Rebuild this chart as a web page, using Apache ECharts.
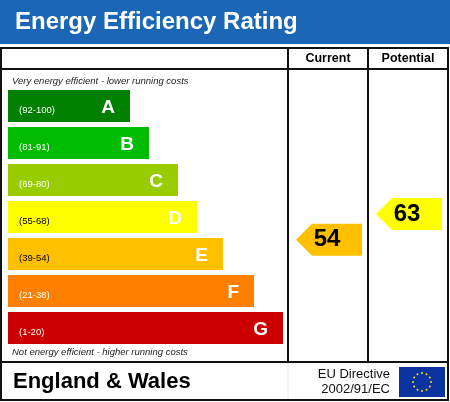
<!DOCTYPE html>
<html>
<head>
<meta charset="utf-8">
<script src="https://cdn.jsdelivr.net/npm/echarts@6/dist/echarts.min.js"></script>
<style>
html,body{margin:0;padding:0;background:#fff;}
#chart{width:450px;height:402px;}
</style>
</head>
<body>
<div id="chart"></div>
<script>
// ---- data ----
const title = 'Energy Efficiency Rating';
const ratings = ['A', 'B', 'C', 'D', 'E', 'F', 'G'];
const ranges = ['(92-100)', '(81-91)', '(69-80)', '(55-68)', '(39-54)', '(21-38)', '(1-20)'];
const bandMin = [92, 81, 69, 55, 39, 21, 1];
const barLengths = [122, 141, 170, 189, 215, 246, 275];
const columns = ['Current', 'Potential'];
const scores = [54, 63];
const topNote = 'Very energy efficient - lower running costs';
const bottomNote = 'Not energy efficient - higher running costs';
const region = 'England & Wales';
const directive = ['EU Directive', '2002/91/EC'];

// ---- styles ----
const bandColors = ['#007f00', '#00bb00', '#99cc00', '#ffff00', '#ffc000', '#ff8000', '#cc0000'];
const rangeTextColors = ['#fff', '#fff', '#fff', '#000', '#000', '#fff', '#fff'];
const FONT = '"Liberation Sans", Arial, Helvetica, sans-serif';

function bandIndex(v) {
  for (let i = 0; i < bandMin.length; i++) if (v >= bandMin[i]) return i;
  return bandMin.length - 1;
}

const chart = echarts.init(document.getElementById('chart'), null, {renderer: 'canvas'});

const stars = [];
for (let i = 0; i < 12; i++) {
  const a = i * Math.PI / 6;
  stars.push({
    type: 'circle',
    shape: {cx: 422 + 9 * Math.cos(a), cy: 382 + 9 * Math.sin(a), r: 1},
    style: {fill: '#ffdd00'}
  });
}

const line = (x1, y1, x2, y2, color, w) => ({
  type: 'line',
  shape: {x1, y1, x2, y2},
  style: {stroke: color || '#111', lineWidth: w || 2}
});

const option = {
  animation: false,
  backgroundColor: '#fff',
  textStyle: {fontFamily: FONT},
  graphic: [
    {type: 'rect', shape: {x: 0, y: 0, width: 450, height: 44}, style: {fill: '#1b66b5'}},
    {type: 'text', x: 15, y: 22, style: {text: title, fill: '#fff', font: 'bold 24px ' + FONT, verticalAlign: 'middle'}},
    {type: 'rect', shape: {x: 1, y: 48, width: 447, height: 352}, style: {fill: 'none', stroke: '#111', lineWidth: 2}},
    line(1, 69, 448, 69),
    line(1, 362, 448, 362),
    line(288, 48, 288, 362),
    line(368, 48, 368, 362),
    line(288, 363, 288, 399, '#e4e4e4', 1),
    line(368, 363, 368, 399, '#e4e4e4', 1),
    {type: 'text', x: 12, y: 81, style: {text: topNote, fill: '#222', font: 'italic 9.5px ' + FONT, verticalAlign: 'middle'}},
    {type: 'text', x: 12, y: 352, style: {text: bottomNote, fill: '#222', font: 'italic 9.5px ' + FONT, verticalAlign: 'middle'}},
    {type: 'text', x: 13, y: 382, style: {text: region, fill: '#000', font: 'bold 22px ' + FONT, verticalAlign: 'middle'}},
    {type: 'text', x: 390, y: 374, style: {text: directive[0], fill: '#111', font: '13px ' + FONT, align: 'right', verticalAlign: 'middle'}},
    {type: 'text', x: 390, y: 389, style: {text: directive[1], fill: '#111', font: '13px ' + FONT, align: 'right', verticalAlign: 'middle'}},
    {type: 'rect', shape: {x: 399, y: 367, width: 46, height: 30}, style: {fill: '#0b33a0'}},
    ...stars
  ],
  grid: [
    {left: 8, top: 87.5, width: 280, height: 259},
    {left: 288, top: 69, width: 160, height: 293}
  ],
  xAxis: [
    {gridIndex: 0, type: 'value', min: 0, max: 280, show: false},
    {gridIndex: 1, type: 'category', data: columns, position: 'top',
      axisLine: {show: false}, axisTick: {show: false}, splitLine: {show: false},
      axisLabel: {margin: 10, verticalAlign: 'middle', color: '#000', fontWeight: 'bold', fontSize: 12.5, fontFamily: FONT}}
  ],
  yAxis: [
    {gridIndex: 0, type: 'category', data: ratings, inverse: true, show: false},
    {gridIndex: 1, type: 'value', min: 11, max: 114, show: false}
  ],
  series: [
    {
      type: 'bar', xAxisIndex: 0, yAxisIndex: 0, barWidth: 32, barGap: '-100%',
      data: barLengths.map((v, i) => ({value: v, itemStyle: {color: bandColors[i]}})),
      label: {
        show: true, position: 'insideRight', distance: 15, offset: [0, 2],
        formatter: p => ratings[p.dataIndex],
        color: '#fff', fontWeight: 'bold', fontSize: 19, fontFamily: FONT,
        textShadowColor: 'rgba(0,0,0,0.75)', textShadowOffsetX: 1, textShadowOffsetY: 1, textShadowBlur: 0
      },
      silent: true
    },
    {
      type: 'bar', xAxisIndex: 0, yAxisIndex: 0, barWidth: 32, barGap: '-100%',
      data: barLengths.map((v, i) => ({
        value: v,
        itemStyle: {color: 'rgba(0,0,0,0)'},
        label: {color: rangeTextColors[i]}
      })),
      label: {
        show: true, position: 'insideLeft', distance: 11, offset: [0, 4],
        formatter: p => ranges[p.dataIndex],
        fontSize: 9.5, fontFamily: FONT
      },
      silent: true
    },
    {
      type: 'custom', xAxisIndex: 1, yAxisIndex: 1,
      data: scores.map((s, i) => [i, s, bandIndex(s)]),
      renderItem: function (params, api) {
        const c = api.coord([api.value(0), api.value(1)]);
        const cx = c[0], cy = c[1], h = 16;
        const color = bandColors[api.value(2)];
        return {
          type: 'group',
          children: [
            {type: 'polygon', shape: {points: [[cx - 32, cy], [cx - 16, cy - h], [cx + 34, cy - h], [cx + 34, cy + h], [cx - 16, cy + h]]},
              style: {fill: color}},
            {type: 'text', x: cx - 1, y: cy, style: {text: String(api.value(1)), fill: '#000',
              font: 'bold 24px ' + FONT, align: 'center', verticalAlign: 'middle'}}
          ]
        };
      },
      silent: true
    }
  ]
};
chart.setOption(option);
</script>
</body>
</html>
